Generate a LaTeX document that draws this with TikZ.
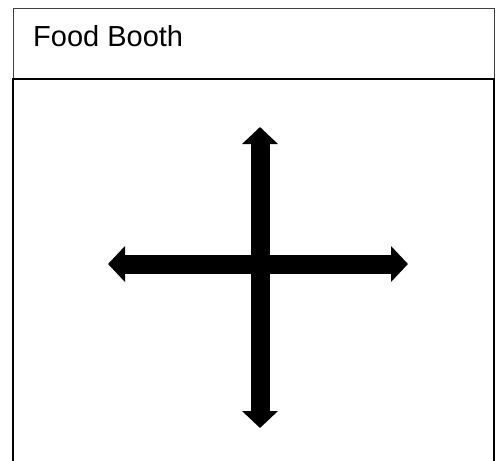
\documentclass[tikz,border=0pt]{standalone}
\usepackage{fontspec}
\setmainfont{Liberation Sans}
\usetikzlibrary{arrows.meta}

\begin{document}
\begin{tikzpicture}[x=1pt,y=-1pt,>=Stealth,
  bigarrow/.style={line width=19pt,{Triangle[length=17pt,width=35pt]}-{Triangle[length=17pt,width=35pt]}}]
\useasboundingbox (0,0) rectangle (496,461);
% header
\draw[line width=1pt,black!75] (13,8) rectangle (494,79);
\node[anchor=base west,inner sep=0pt,font=\fontsize{29}{35}\selectfont] (title) at (33,46) {Food Booth};
% booth area, open at the bottom
\draw[line width=2pt] (13,470)--(13,79)--(494,79)--(494,470);
% arrows
\coordinate (north) at (260,127);
\coordinate (south) at (260,428);
\coordinate (west) at (108,264);
\coordinate (east) at (408,264);
\draw[bigarrow] (south)--(north);
\draw[bigarrow] (west)--(east);
\end{tikzpicture}
\end{document}
